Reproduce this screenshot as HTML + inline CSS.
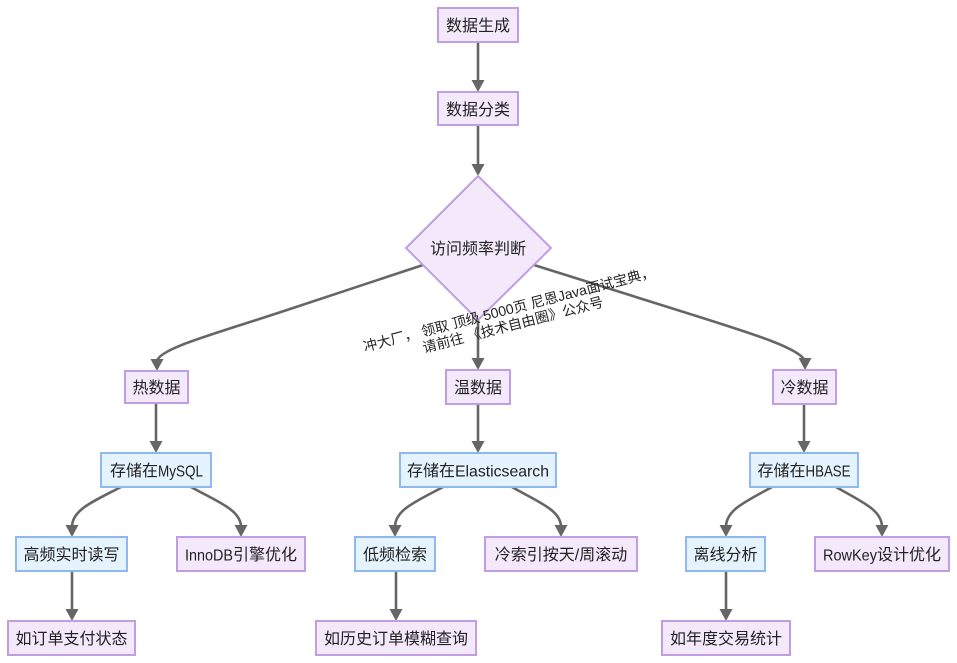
<!DOCTYPE html>
<html>
<head>
<meta charset="utf-8">
<style>
html,body{margin:0;padding:0;background:#fff;}
svg{display:block;}
text{font-family:"Liberation Sans","Noto Sans CJK SC",sans-serif;font-size:16px;fill:#222;text-anchor:middle;dominant-baseline:central;transform:translateY(1.5px);}
.p{fill:#f3e9fb;stroke:#c09ee4;stroke-width:2;}
.b{fill:#e4f3fe;stroke:#8db8f2;stroke-width:2;}
.e{fill:none;stroke:#666;stroke-width:2.6;}
.a{fill:#666;stroke:none;}
.l{font-size:14px;}
</style>
</head>
<body>
<svg width="957" height="663" viewBox="0 0 957 663" xmlns="http://www.w3.org/2000/svg">
<rect width="957" height="663" fill="#fff"/>
<defs>
<path id="ar" class="a" d="M-6.500,-12 L6.500,-12 L0,0 Z"/>
</defs>

<!-- edges -->
<path class="e" d="M478,42 V82"/>
<path class="e" d="M478,125 V166"/>
<path class="e" d="M478,320 V360"/>
<path class="e" d="M423,265 L290,309 C215,334 160,348 157,361"/>
<path class="e" d="M534,265 L690,314 C750,333 800,348 805,361"/>
<path class="e" d="M156,403 V443"/>
<path class="e" d="M478,404 V443"/>
<path class="e" d="M804,404 V443"/>
<path class="e" d="M121,487 C92,502 72,510 72,527"/>
<path class="e" d="M191,487 C218,502 241,510 241,527"/>
<path class="e" d="M443,487 C415,502 395,510 395,527"/>
<path class="e" d="M512,487 C538,502 561,510 561,527"/>
<path class="e" d="M772,487 C745,502 726,510 726,527"/>
<path class="e" d="M836,487 C862,502 882,510 882,527"/>
<path class="e" d="M72,571 V611"/>
<path class="e" d="M396,571 V611"/>
<path class="e" d="M726,571 V611"/>

<use href="#ar" x="478" y="92"/>
<use href="#ar" x="478" y="176"/>
<use href="#ar" x="478" y="370"/>
<use href="#ar" x="157" y="371"/>
<use href="#ar" x="805" y="370"/>
<use href="#ar" x="156" y="453"/>
<use href="#ar" x="478" y="453"/>
<use href="#ar" x="804" y="453"/>
<use href="#ar" x="72" y="537"/>
<use href="#ar" x="241" y="537"/>
<use href="#ar" x="395" y="537"/>
<use href="#ar" x="561" y="537"/>
<use href="#ar" x="726" y="537"/>
<use href="#ar" x="882" y="537"/>
<use href="#ar" x="72" y="621"/>
<use href="#ar" x="396" y="621"/>
<use href="#ar" x="726" y="621"/>

<!-- diamond -->
<polygon class="p" points="478,176 551,248 478,320 406,248"/>
<text x="478" y="248">访问频率判断</text>

<!-- nodes -->
<rect class="p" x="438" y="8" width="80" height="34"/><text x="478" y="25">数据生成</text>
<rect class="p" x="438" y="92" width="80" height="33"/><text x="478" y="109">数据分类</text>
<rect class="p" x="125" y="371" width="63" height="32"/><text x="156.500" y="387">热数据</text>
<rect class="p" x="446" y="370" width="64" height="34"/><text x="478" y="387">温数据</text>
<rect class="p" x="773" y="370" width="63" height="34"/><text x="804.500" y="387">冷数据</text>

<rect class="b" x="101" y="453" width="110" height="34"/><text x="156.500" y="470">存储在<tspan textLength="45" lengthAdjust="spacingAndGlyphs">MySQL</tspan></text>
<rect class="b" x="400" y="453" width="156" height="34"/><text x="478" y="470">存储在<tspan textLength="94" lengthAdjust="spacingAndGlyphs">Elasticsearch</tspan></text>
<rect class="b" x="750" y="453" width="108" height="34"/><text x="804" y="470">存储在<tspan textLength="45" lengthAdjust="spacingAndGlyphs">HBASE</tspan></text>

<rect class="b" x="16" y="537" width="111" height="34"/><text x="71.500" y="554">高频实时读写</text>
<rect class="p" x="177" y="537" width="128" height="34"/><text x="241" y="554"><tspan textLength="48" lengthAdjust="spacingAndGlyphs">InnoDB</tspan>引擎优化</text>
<rect class="b" x="355" y="537" width="80" height="34"/><text x="395" y="554">低频检索</text>
<rect class="p" x="485" y="537" width="152" height="34"/><text x="561" y="554">冷索引按天/周滚动</text>
<rect class="b" x="686" y="537" width="79" height="34"/><text x="725.500" y="554">离线分析</text>
<rect class="p" x="815" y="537" width="134" height="34"/><text x="882" y="554"><tspan textLength="54" lengthAdjust="spacingAndGlyphs">RowKey</tspan>设计优化</text>

<rect class="p" x="8" y="621" width="127" height="34"/><text x="71.500" y="638">如订单支付状态</text>
<rect class="p" x="316" y="621" width="160" height="34"/><text x="396" y="638">如历史订单模糊查询</text>
<rect class="p" x="662" y="621" width="128" height="34"/><text x="726" y="638">如年度交易统计</text>

<!-- rotated label -->
<g transform="translate(510,313.500) rotate(-14.500)">
<text class="l" x="0" y="-6">冲大厂， 领取 顶级 5000页 尼恩Java面试宝典，</text>
<text class="l" x="0" y="10">请前往 《技术自由圈》公众号</text>
</g>
</svg>
</body>
</html>
